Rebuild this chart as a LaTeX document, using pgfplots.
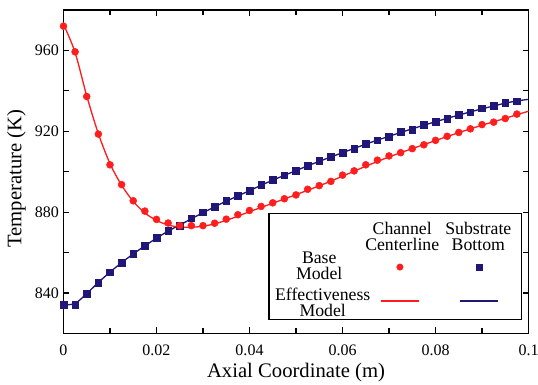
\documentclass[border=0pt]{standalone}
\usepackage{fontspec}
\setmainfont{Liberation Serif}
\usepackage{pgfplots}
\usepackage{pgfplotstable}
\pgfplotsset{compat=1.18}
\definecolor{cred}{RGB}{255,30,30}
\definecolor{cblue}{RGB}{32,22,120}
\pgfplotsset{
 markleg/.style={legend image code/.code={\path[draw=none,fill=none] (0cm,-0.1cm) (1cm,0.1cm); \draw[##1] plot coordinates {(0.5cm,0cm)};}},
 lineleg/.style={legend image code/.code={\path[draw=none,fill=none] (0cm,-0.1cm) (1cm,0.1cm); \draw[##1] (0cm,0cm) -- (1cm,0cm);}},
}
\newcommand{\legfont}{\fontsize{13.3}{12}\selectfont}

\pgfplotstableread{
x y
0.0000 972.0
0.0025 959.3
0.0050 937.2
0.0075 918.6
0.0100 903.4
0.0125 893.6
0.0150 885.6
0.0175 880.5
0.0200 876.4
0.0225 874.6
0.0250 873.3
0.0275 873.3
0.0300 873.3
0.0325 874.5
0.0350 876.5
0.0375 878.7
0.0400 880.8
0.0425 882.8
0.0450 884.6
0.0475 886.6
0.0500 888.5
0.0525 891.3
0.0550 893.1
0.0575 895.2
0.0600 898.3
0.0625 900.4
0.0650 903.4
0.0675 905.7
0.0700 907.8
0.0725 909.4
0.0750 911.4
0.0775 913.3
0.0800 915.5
0.0825 917.5
0.0850 919.4
0.0875 921.2
0.0900 923.3
0.0925 924.5
0.0950 926.3
0.0975 928.5
}\redbase

\pgfplotstableread{
x y
0.0000 834.1
0.0025 834.1
0.0050 839.7
0.0075 845.2
0.0100 850.3
0.0125 855.0
0.0150 859.3
0.0175 863.2
0.0200 867.3
0.0225 870.7
0.0250 873.3
0.0275 876.9
0.0300 879.9
0.0325 882.6
0.0350 885.5
0.0375 888.0
0.0400 890.6
0.0425 893.6
0.0450 895.9
0.0475 898.3
0.0500 900.3
0.0525 902.9
0.0550 905.3
0.0575 907.3
0.0600 909.4
0.0625 911.4
0.0650 913.7
0.0675 915.6
0.0700 917.4
0.0725 919.6
0.0750 920.9
0.0775 923.3
0.0800 924.8
0.0825 926.3
0.0850 928.2
0.0875 929.4
0.0900 931.3
0.0925 932.6
0.0950 934.1
0.0975 934.9
}\bluebase

\pgfplotstableread{
x y
0.0000 973.0
0.0025 959.0
0.0050 937.5
0.0075 918.8
0.0100 904.0
0.0125 893.3
0.0150 885.3
0.0175 879.6
0.0200 875.9
0.0225 873.6
0.0250 872.6
0.0275 872.5
0.0300 873.0
0.0325 874.2
0.0350 875.9
0.0375 878.0
0.0400 880.2
0.0425 882.3
0.0450 884.4
0.0475 886.5
0.0500 888.6
0.0525 890.8
0.0550 893.0
0.0575 895.3
0.0600 897.8
0.0625 900.2
0.0650 902.7
0.0675 905.0
0.0700 907.3
0.0725 909.4
0.0750 911.4
0.0775 913.4
0.0800 915.4
0.0825 917.4
0.0850 919.3
0.0875 921.2
0.0900 923.0
0.0925 924.7
0.0950 926.4
0.0975 928.2
0.1000 929.9
}\redeff

\pgfplotstableread{
x y
0.0000 834.1
0.0025 834.8
0.0050 839.7
0.0075 845.2
0.0100 850.3
0.0125 855.0
0.0150 859.3
0.0175 863.3
0.0200 867.1
0.0225 870.6
0.0250 873.6
0.0275 876.7
0.0300 879.7
0.0325 882.6
0.0350 885.4
0.0375 888.0
0.0400 890.6
0.0425 893.3
0.0450 895.8
0.0475 898.2
0.0500 900.5
0.0525 902.9
0.0550 905.1
0.0575 907.3
0.0600 909.4
0.0625 911.5
0.0650 913.6
0.0675 915.6
0.0700 917.5
0.0725 919.4
0.0750 921.2
0.0775 923.0
0.0800 924.7
0.0825 926.4
0.0850 928.0
0.0875 929.6
0.0900 931.1
0.0925 932.5
0.0950 933.9
0.0975 935.0
0.1000 935.8
}\blueeff

\begin{document}
\begin{tikzpicture}
\begin{axis}[
  width=348.75pt, height=242.5pt, scale only axis,
  xmin=0, xmax=0.1, ymin=820, ymax=980,
  xtick={0,0.02,0.04,0.06,0.08,0.1},
  xticklabels={0,0.02,0.04,0.06,0.08,0.1},
  ytick={840,880,920,960},
  minor x tick num=1, minor y tick num=1,
  tick align=inside, xtick pos=both, ytick pos=both,
  major tick length=4.5pt, minor tick length=4pt,
  axis line style={line width=1.1pt},
  every tick/.style={black, line width=0.9pt},
  tick label style={font=\fontsize{12}{14}\selectfont},
  xticklabel style={yshift=-5pt},
  /pgf/number format/assume math mode=true,
  xlabel={Axial Coordinate (m)}, ylabel={Temperature (K)},
  label style={font=\fontsize{15.5}{18}\selectfont},
  xlabel style={at={(axis description cs:0.5,-0.1367)}, anchor=base},
  ylabel style={at={(axis description cs:-0.0903,0.479)}, anchor=base},
  legend columns=2,
  legend style={at={(axis cs:0.08102,844.4)}, anchor=center, draw=none, fill=none,
    inner sep=0pt, row sep=19.8pt, column sep=0pt,
    nodes={inner sep=0pt, text depth=0pt},
    /tikz/every even column/.append style={column sep=28.95pt}},
]
\addplot[cblue, line width=1pt, smooth, forget plot] table[x=x,y=y] {\blueeff};
\addplot[cred, line width=1pt, smooth, forget plot] table[x=x,y=y] {\redeff};
\addplot[cblue, only marks, mark=square*, mark size=2.5pt, forget plot] table[x=x,y=y] {\bluebase};
\addplot[cred, only marks, mark=*, mark size=2.6pt, forget plot] table[x=x,y=y] {\redbase};

\draw[line width=0.8pt, fill=white] (axis cs:0.04419,879.4) rectangle (axis cs:0.09839,826.9);
\node[align=center, font=\legfont] at (axis cs:0.07284,868.0) {Channel\\Centerline};
\node[align=center, font=\legfont] at (axis cs:0.0892,868.0) {Substrate\\Bottom};
\node[align=center, font=\legfont] at (axis cs:0.0550,853.2) {Base\\Model};
\node[align=center, font=\legfont] at (axis cs:0.05574,835.4) {Effectiveness\\Model};

\addlegendimage{markleg, only marks, mark=*, cred, mark size=2.4pt}
\addlegendentry{}
\addlegendimage{markleg, only marks, mark=square*, cblue, mark size=2.4pt}
\addlegendentry{}
\addlegendimage{lineleg, cred, line width=1.1pt}
\addlegendentry{}
\addlegendimage{lineleg, cblue, line width=1.1pt}
\addlegendentry{}
\end{axis}
\pgfresetboundingbox
\path ([xshift=-47.6pt,yshift=-38pt]current axis.south west) rectangle ([xshift=7.1pt,yshift=7.5pt]current axis.north east);
\end{tikzpicture}
\end{document}
